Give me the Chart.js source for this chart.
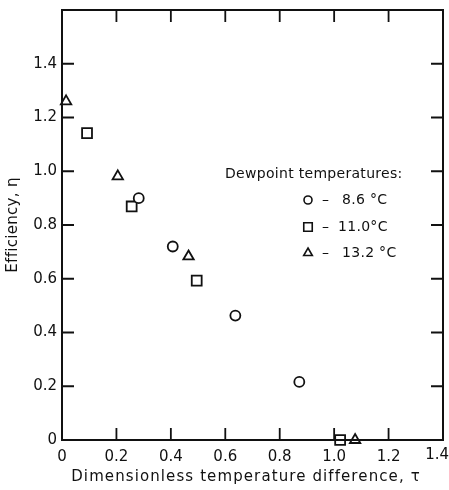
<!DOCTYPE html>
<html>
<head>
<meta charset="utf-8">
<script src="https://cdn.jsdelivr.net/npm/chart.js@4"></script>
<style>
  html, body { margin: 0; padding: 0; background: #fff; }
  #wrap { width: 449px; height: 490px; }
</style>
</head>
<body>
<div id="wrap"><canvas id="chart" width="449" height="490"></canvas></div>
<script>
// dewpoint 8.6 C (circles)
const tau86 = [0.282, 0.407, 0.637, 0.872];
const eta86 = [0.90, 0.72, 0.463, 0.216];
// dewpoint 11.0 C (squares)
const tau110 = [0.092, 0.256, 0.495, 1.022];
const eta110 = [1.142, 0.869, 0.593, 0.0];
// dewpoint 13.2 C (triangles)
const tau132 = [0.015, 0.205, 0.465, 1.077];
const eta132 = [1.26, 0.981, 0.683, 0.0];

const legendLabels = ["8.6 \u00b0C", "11.0\u00b0C", "13.2 \u00b0C"];
const xTicks = [0, 0.2, 0.4, 0.6, 0.8, 1.0, 1.2, 1.4];
const yTicks = [0, 0.2, 0.4, 0.6, 0.8, 1.0, 1.2, 1.4];

const FONT = "'DejaVu Sans', 'Liberation Sans', sans-serif";
const INK = "#111";

const toPoints = (xs, ys) => xs.map((x, i) => ({ x: x, y: ys[i] }));

const fmt = (v) => (v === 0 ? "0" : v.toFixed(1));

const markerRadius = (style) => (style === "rect" ? 7 : style === "triangle" ? 6 : 5);

const dataset = (label, xs, ys, style) => ({
  label: label,
  data: toPoints(xs, ys),
  pointStyle: style,
  pointRadius: markerRadius(style),
  pointBorderWidth: 1.8,
  pointBorderColor: INK,
  pointBackgroundColor: "#fff",
  showLine: false,
  clip: false,
});

// frame, inward ticks, axis titles and legend box
const decorations = {
  id: "decorations",
  afterDraw(chart) {
    const ctx = chart.ctx;
    const xs = chart.scales.x;
    const ys = chart.scales.y;
    const a = chart.chartArea;
    const tl = 12;

    ctx.save();
    ctx.strokeStyle = INK;
    ctx.lineWidth = 2;
    ctx.strokeRect(a.left, a.top, a.right - a.left, a.bottom - a.top);

    ctx.lineWidth = 1.8;
    ctx.beginPath();
    for (const t of xTicks.slice(1, -1)) {
      const px = xs.getPixelForValue(t);
      ctx.moveTo(px, a.bottom);
      ctx.lineTo(px, a.bottom - tl);
      ctx.moveTo(px, a.top);
      ctx.lineTo(px, a.top + tl);
    }
    for (const t of yTicks.slice(1)) {
      const py = ys.getPixelForValue(t);
      ctx.moveTo(a.left, py);
      ctx.lineTo(a.left + tl, py);
      ctx.moveTo(a.right, py);
      ctx.lineTo(a.right - tl, py);
    }
    ctx.stroke();

    ctx.fillStyle = INK;
    ctx.font = "15px " + FONT;
    ctx.textBaseline = "middle";

    // last x tick label sits against the page edge
    const lastX = xTicks[xTicks.length - 1];
    ctx.textAlign = "right";
    ctx.fillText(fmt(lastX), 449, a.bottom + 15);

    ctx.textAlign = "center";
    ctx.letterSpacing = "1.1px";
    ctx.fillText("Dimensionless temperature difference, \u03c4", 246, 477);

    ctx.save();
    ctx.translate(13, 225);
    ctx.rotate(-Math.PI / 2);
    ctx.letterSpacing = "0.3px";
    ctx.fillText("Efficiency, \u03b7", 0, 0);
    ctx.restore();

    // legend
    ctx.font = "14px " + FONT;
    ctx.textAlign = "left";
    ctx.letterSpacing = "0.3px";
    ctx.fillText("Dewpoint temperatures:", 225, 174);
    const styles = ["circle", "rect", "triangle"];
    const rowY = [200, 227, 253];
    legendLabels.forEach((lab, i) => {
      const y = rowY[i];
      ctx.save();
      ctx.lineWidth = 1.6;
      ctx.strokeStyle = INK;
      ctx.fillStyle = "#fff";
      Chart.helpers.drawPoint(ctx, {
        pointStyle: styles[i],
        radius: markerRadius(styles[i]) - 1,
        rotation: 0,
        borderWidth: 1.6,
      }, 308, y);
      ctx.restore();
      ctx.fillText("\u2013", 322, y);
      ctx.fillText(lab, i === 1 ? 338 : 342, y);
    });
    ctx.restore();
  },
};

new Chart(document.getElementById("chart"), {
  type: "scatter",
  data: {
    datasets: [
      dataset("8.6 \u00b0C", tau86, eta86, "circle"),
      dataset("11.0 \u00b0C", tau110, eta110, "rect"),
      dataset("13.2 \u00b0C", tau132, eta132, "triangle"),
    ],
  },
  options: {
    responsive: false,
    animation: false,
    layout: { autoPadding: false, padding: { top: 10, right: 6, left: 0, bottom: 0 } },
    plugins: { legend: { display: false }, tooltip: { enabled: false } },
    scales: {
      x: {
        type: "linear",
        min: 0,
        max: 1.4,
        afterFit: (s) => {
          s.height = 50;
          s.paddingLeft = 0;
          s.paddingRight = 0;
        },
        afterBuildTicks: (s) => { s.ticks = xTicks.map((v) => ({ value: v })); },
        grid: { display: false },
        border: { display: false },
        ticks: {
          color: INK,
          font: { family: FONT, size: 15 },
          padding: 0,
          maxRotation: 0,
          // the last label is drawn by the plugin so it can touch the edge
          callback: (v) => (v === xTicks[xTicks.length - 1] ? "" : fmt(v)),
        },
      },
      y: {
        type: "linear",
        min: 0,
        max: 1.6,
        afterFit: (s) => {
          s.width = 62;
          s.paddingTop = 0;
          s.paddingBottom = 0;
        },
        afterBuildTicks: (s) => { s.ticks = yTicks.map((v) => ({ value: v })); },
        grid: { display: false },
        border: { display: false },
        ticks: {
          color: INK,
          font: { family: FONT, size: 15 },
          padding: -3,
          callback: (v) => fmt(v),
        },
      },
    },
  },
  plugins: [decorations],
});
</script>
</body>
</html>
